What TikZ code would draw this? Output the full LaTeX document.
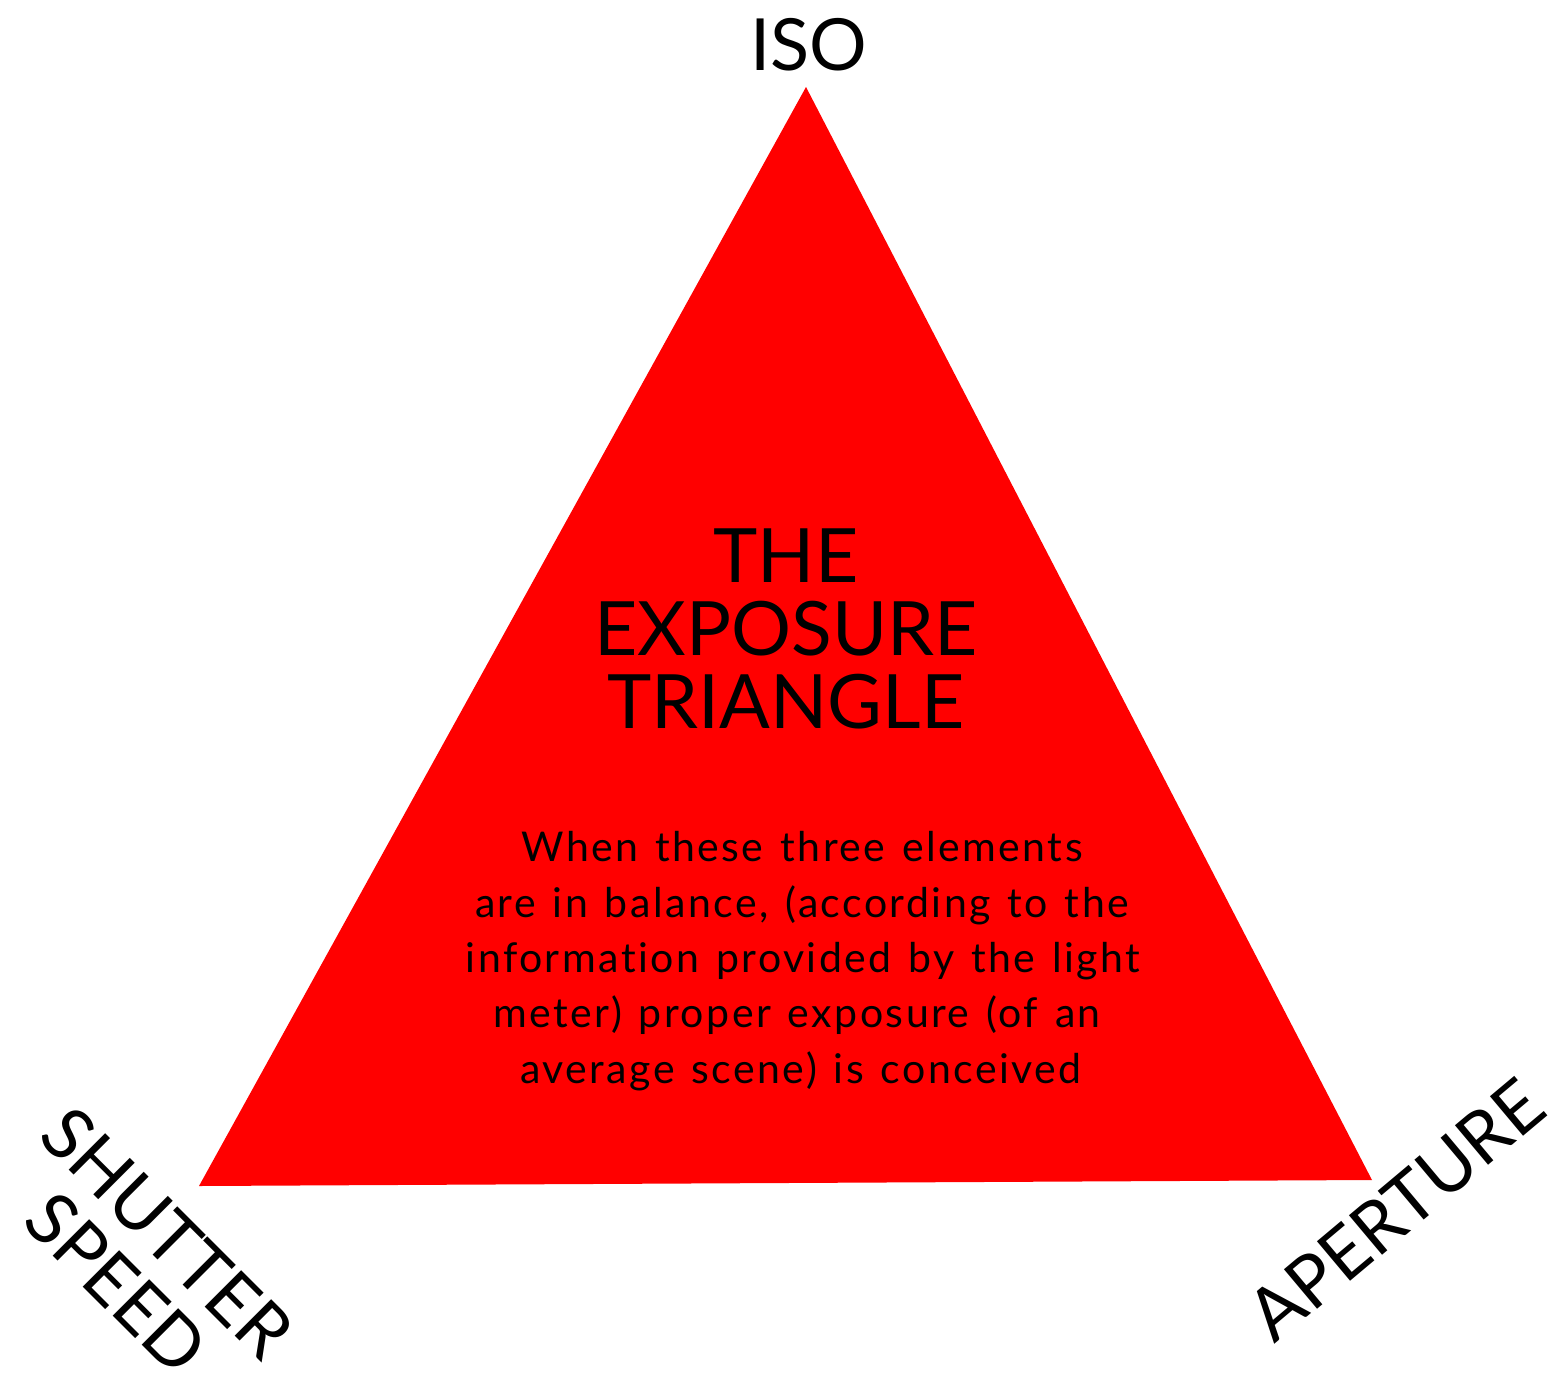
\documentclass[tikz,border=0pt]{standalone}
\usepackage{fontspec}
\setmainfont{Lato}[Ligatures=CommonOff]
\newfontfamily\bodyfont{Lato}[Ligatures=CommonOff, LetterSpace=6, WordSpace=1.3]
\definecolor{trired}{HTML}{FF0000}
\begin{document}
\begin{tikzpicture}[x=1pt,y=-1pt,
  label72/.style={font=\fontsize{72}{72}\selectfont, inner sep=0pt, text=black},
  titleline/.style={font=\fontsize{75}{73}\selectfont, inner sep=0pt, anchor=base, text=black},
  bodyline/.style={font=\bodyfont\fontsize{41}{56}\selectfont, inner sep=0pt, anchor=base, text=black}]
\useasboundingbox (0,0) rectangle (1561,1374);
\coordinate (top) at (806,87);
\coordinate (bl) at (199,1186);
\coordinate (br) at (1372,1180);
\fill[trired] (top) -- (bl) -- (br) -- cycle;
\node[label72, anchor=base] (iso) at (809,70) {ISO};
\node[titleline] (t1) at (786,582) {THE};
\node[titleline] (t2) at (786,655) {EXPOSURE};
\node[titleline] (t3) at (786,728) {TRIANGLE};
\node[bodyline] (b1) at (802,861) {When these three elements};
\node[bodyline] (b2) at (802,917) {are in balance, (according to the};
\node[bodyline] (b3) at (803,972) {information provided by the light};
\node[bodyline] (b4) at (797,1027) {meter) proper exposure (of an};
\node[bodyline] (b5) at (801,1083) {average scene) is conceived};
\node[label72, align=center, rotate=-45] (ss) at (142,1258) {SHUTTER\\SPEED};
\node[label72, rotate=40] (ap) at (1396,1210) {APERTURE};
\end{tikzpicture}
\end{document}
